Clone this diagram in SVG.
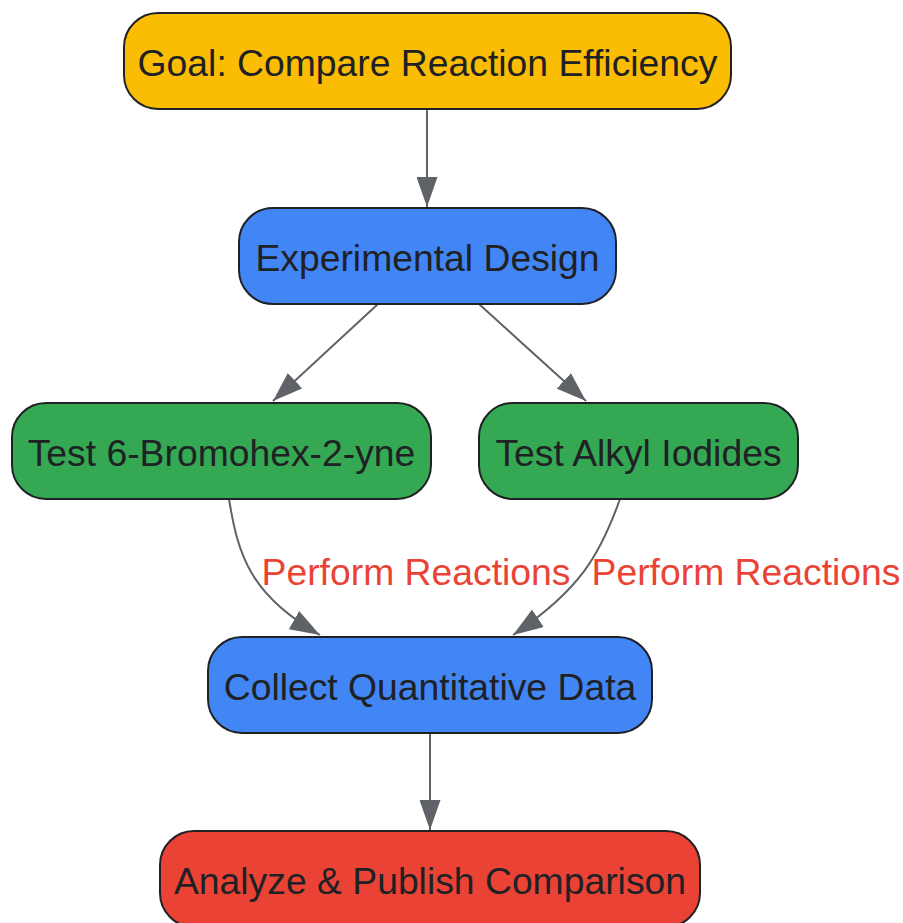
<svg xmlns="http://www.w3.org/2000/svg" width="903" height="923" viewBox="0 0 903 923">
<defs>
<style>
.n rect{stroke:#202124;stroke-width:2}
.n text{font-family:"Liberation Sans",Arial,sans-serif;font-size:37.3px;fill:#202124;text-anchor:middle}
.e path{fill:none;stroke:#5f6368;stroke-width:2}
.lbl{font-family:"Liberation Sans",Arial,sans-serif;font-size:37.3px;fill:#EA4335;text-anchor:middle}
</style>
<marker id="ah" markerUnits="userSpaceOnUse" markerWidth="30" markerHeight="21" refX="30" refY="10.5" orient="auto" viewBox="0 0 30 21">
<path d="M0,0 L30,10.5 L0,21 z" fill="#5f6368"/>
</marker>
</defs>
<rect width="903" height="923" fill="#ffffff"/>
<g id="connectors" class="e">
<path d="M427,109 L427,207" marker-end="url(#ah)"/>
<path d="M378,304 L273,401" marker-end="url(#ah)"/>
<path d="M479,304 L586,401" marker-end="url(#ah)"/>
<path d="M229,499 C238,555 250,595 320,635" marker-end="url(#ah)"/>
<path d="M620,499 C600,555 580,590 513,635" marker-end="url(#ah)"/>
<path d="M430,733 L430,830" marker-end="url(#ah)"/>
<text class="lbl" x="416" y="585">Perform Reactions</text>
<text class="lbl" x="746" y="585">Perform Reactions</text>
</g>
<g id="goal" class="n">
<rect x="124" y="13" width="607" height="96" rx="34" fill="#FBBC04"/>
<text x="427.5" y="76">Goal: Compare Reaction Efficiency</text>
</g>
<g id="design" class="n">
<rect x="239" y="208" width="377" height="96" rx="34" fill="#4285F4"/>
<text x="427.5" y="271">Experimental Design</text>
</g>
<g id="bromo" class="n">
<rect x="12" y="403" width="419" height="96" rx="34" fill="#34A853"/>
<text x="221.5" y="466">Test 6-Bromohex-2-yne</text>
</g>
<g id="iodides" class="n">
<rect x="479" y="403" width="319" height="96" rx="34" fill="#34A853"/>
<text x="638.5" y="466">Test Alkyl Iodides</text>
</g>
<g id="collect" class="n">
<rect x="208" y="637" width="444" height="96" rx="34" fill="#4285F4"/>
<text x="430" y="700">Collect Quantitative Data</text>
</g>
<g id="analyze" class="n">
<rect x="160" y="831" width="540" height="96" rx="34" fill="#EA4335"/>
<text x="430" y="894">Analyze &amp; Publish Comparison</text>
</g>
</svg>
